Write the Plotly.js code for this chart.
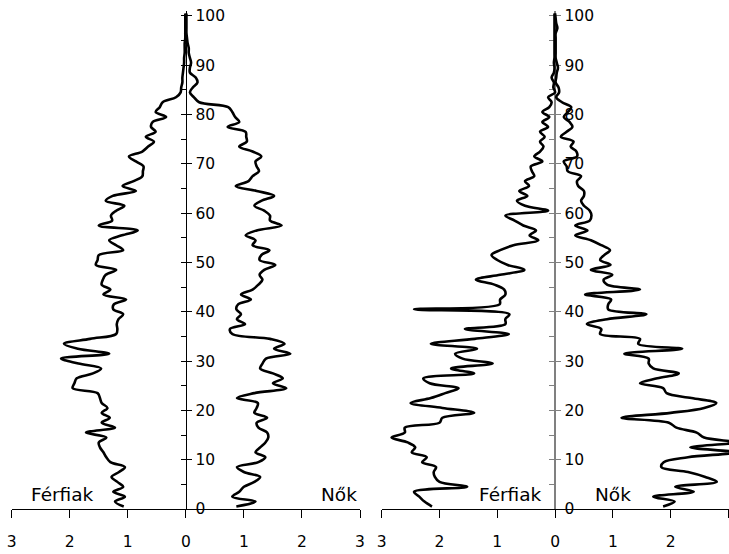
<!DOCTYPE html>
<html><head><meta charset="utf-8">
<script src="https://cdn.plot.ly/plotly-3.0.1.min.js"></script>
<style>html,body{margin:0;padding:0;background:#fff}#chart{width:729px;height:554px}</style>
</head><body><div id="chart"></div><script>
// Age categories 0..100
const ages = Array.from({length: 101}, (_, i) => i);

// Left pyramid (%), men / women
const leftMen = [1.07,1.22,1.05,1.25,1.08,1.18,1.28,1.15,1.05,1.3,
  1.37,1.42,1.48,1.5,1.37,1.72,1.22,1.45,1.31,1.45,
  1.35,1.45,1.48,1.52,1.95,1.92,1.88,1.6,1.46,1.85,
  2.15,1.32,1.86,2.1,1.65,1.2,1.18,1.19,1.16,1.08,
  1.25,1.24,1.03,1.42,1.3,1.45,1.43,1.38,1.2,1.55,
  1.52,1.5,1.08,1.2,1.32,1.1,0.83,1.5,1.27,1.29,
  1.2,1.06,1.38,1.26,0.86,1.09,0.9,0.75,0.74,0.73,
  0.86,0.98,0.75,0.65,0.55,0.69,0.52,0.6,0.57,0.34,
  0.52,0.45,0.4,0.17,0.09,0.08,0.06,0.06,0.05,0.04,
  0.03,0.03,0.02,0.02,0.02,0.01,0.01,0.01,0.01,0.01,0.01];
const leftWomen = [0.87,1.2,0.8,0.92,1.0,1.18,1.28,1.0,0.88,1.25,
  1.37,1.2,1.28,1.37,1.42,1.4,1.25,1.22,1.4,1.18,
  1.22,1.24,0.88,1.18,1.73,1.5,1.67,1.5,1.28,1.32,
  1.38,1.8,1.52,1.7,1.45,0.8,0.76,1.02,0.88,0.95,
  0.87,0.9,1.12,0.95,1.15,1.25,1.32,1.27,1.35,1.54,
  1.27,1.3,1.44,1.15,1.2,1.03,1.22,1.65,1.45,1.45,
  1.35,1.18,1.3,1.52,1.22,0.86,1.08,1.15,1.26,1.22,
  1.2,1.3,1.15,0.92,1.05,1.04,1.03,0.72,0.92,0.85,
  0.8,0.73,0.23,0.14,0.07,0.12,0.2,0.17,0.07,0.07,
  0.09,0.07,0.05,0.05,0.03,0.02,0.01,0.01,0.01,0.01,0.01];

// Right pyramid (%), men / women
const rightMen = [2.13,2.26,2.35,2.44,1.52,2.0,2.08,2.1,2.06,2.3,
  2.22,2.48,2.42,2.55,2.83,2.6,2.6,2.0,1.95,1.4,
  1.95,2.5,2.15,1.9,1.67,2.17,2.28,1.4,1.8,1.08,
  1.6,1.73,1.35,2.15,1.39,0.8,1.56,0.86,0.86,0.79,
  2.44,0.96,0.95,0.86,0.88,1.05,1.37,0.95,0.53,0.82,
  1.0,1.1,0.95,0.72,0.29,0.44,0.33,0.55,0.7,0.86,
  0.12,0.52,0.66,0.48,0.62,0.45,0.52,0.36,0.4,0.42,
  0.22,0.36,0.26,0.2,0.26,0.18,0.26,0.12,0.22,0.1,
  0.22,0.1,0.06,0.12,0.0,0.03,0.02,0.06,0.02,0.01,
  0.02,0.01,0.01,0.01,0.01,0.01,0.01,0.01,0.01,0.01,0.01];
const rightWomen = [1.87,2.07,1.7,2.4,2.08,2.8,2.6,2.3,1.84,1.88,
  2.3,3.12,2.34,3.12,2.58,2.45,2.1,1.97,1.15,2.0,
  2.58,2.79,2.36,1.93,1.87,1.47,1.77,2.14,1.7,1.62,
  1.62,1.2,2.2,1.44,1.47,0.78,0.8,0.55,0.9,1.58,
  0.92,0.92,0.97,0.52,1.47,0.9,0.84,0.99,0.62,0.96,
  0.78,0.85,0.95,0.8,0.62,0.35,0.56,0.35,0.6,0.63,
  0.6,0.5,0.45,0.5,0.5,0.4,0.38,0.45,0.22,0.2,
  0.15,0.38,0.37,0.27,0.32,0.1,0.2,0.3,0.25,0.15,
  0.22,0.28,0.12,0.02,0.07,0.06,0.01,0.02,0.03,0.05,
  0.03,0.01,0.01,0.01,0.01,0.01,0.01,0.04,0.02,0.01,0.0];

const tickVals = [-3,-2,-1,0,1,2,3];
const tickText = ['3','2','1','0','1','2','3'];
const sexLabels = ['Férfiak','Nők'];

const yPos = ages.map(a => a + 0.5);
const lineStyle = {color:'#000', width:2.6, shape:'spline', smoothing:1};
const neg = arr => arr.map(v => -v);

const traces = [
  {x: neg(leftMen), y: yPos, xaxis:'x', yaxis:'y', mode:'lines', line: lineStyle, hoverinfo:'skip'},
  {x: leftWomen, y: yPos, xaxis:'x', yaxis:'y', mode:'lines', line: lineStyle, hoverinfo:'skip'},
  {x: neg(rightMen), y: yPos, xaxis:'x2', yaxis:'y2', mode:'lines', line: lineStyle, hoverinfo:'skip'},
  {x: rightWomen, y: yPos, xaxis:'x2', yaxis:'y2', mode:'lines', line: lineStyle, hoverinfo:'skip'}
];

const d1 = [0.01605, 0.49383];
const d2 = [0.5236, 1.0];

function xAxis(domain, anchor, hi){
  return {domain: domain, range:[-3,hi], anchor: anchor, tickmode:'array', tickvals: tickVals, ticktext: tickText,
    ticks:'outside', ticklen:8, tickwidth:1, tickcolor:'#000', showline:true, linecolor:'#000', linewidth:1,
    showgrid:false, zeroline:false, ticklabelstandoff:10, tickfont:{size:15.5}, fixedrange:true};
}
function yAxis(domain, color, lw){
  return {domain:[0,1], range:[0,101], anchor:'free', position:(domain[0]+domain[1])/2, side:'right',
    tickmode:'linear', tick0:0, dtick:10, ticks:'outside', ticklen:5, tickwidth:1, tickcolor: color,
    showline:true, linecolor: color, linewidth: lw, showgrid:false, zeroline:false, layer:'below traces',
    tickfont:{size:15.5, color:'#000'}, minor:{ticks:'inside', dtick:5, ticklen:5, tickwidth:1, tickcolor: color, showgrid:false},
    fixedrange:true};
}

const layout = {
  width:729, height:554,
  margin:{l:0, r:0, t:11, b:45, pad:0},
  paper_bgcolor:'#fff', plot_bgcolor:'rgba(0,0,0,0)',
  showlegend:false,
  font:{family:'DejaVu Sans', size:15, color:'#000'},
  xaxis: xAxis(d1, 'y', 3),
  yaxis: yAxis(d1, '#000', 1.5),
  xaxis2: xAxis(d2, 'y2', 3.01),
  yaxis2: yAxis(d2, '#808080', 2),
  annotations: [
    {text: sexLabels[0], x:-2.13, y:3.0, xref:'x', yref:'y', showarrow:false, font:{size:18.5}},
    {text: sexLabels[1], x:2.63, y:3.0, xref:'x', yref:'y', showarrow:false, font:{size:18.5}},
    {text: sexLabels[0], x:-0.77, y:3.0, xref:'x2', yref:'y2', showarrow:false, font:{size:18.5}},
    {text: sexLabels[1], x:1.0, y:3.0, xref:'x2', yref:'y2', showarrow:false, font:{size:18.5}}
  ]
};

Plotly.newPlot('chart', traces, layout, {staticPlot:true, displayModeBar:false});
</script></body></html>
